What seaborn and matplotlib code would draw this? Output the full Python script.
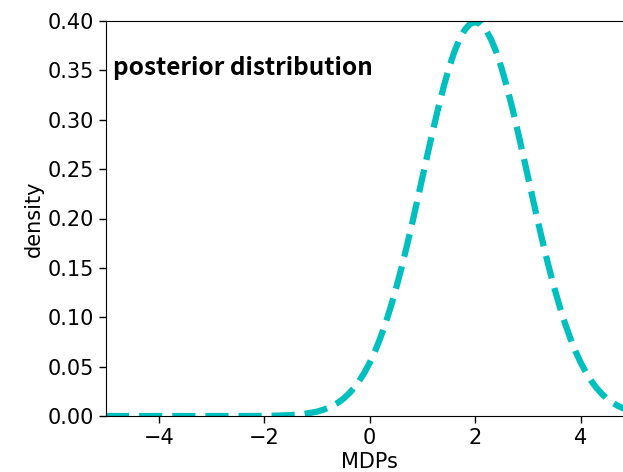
import matplotlib
matplotlib.use("Agg")
import matplotlib.pyplot as plt
import seaborn as sns
import pandas as pd

# values
mdps = [-5.0, -4.75, -4.5, -4.25, -4.0, -3.75, -3.5, -3.25, -3.0, -2.75, -2.5, -2.25,
        -2.0, -1.75, -1.5, -1.25,
        -1.0, -0.9, -0.8, -0.7, -0.6, -0.5, -0.4, -0.3, -0.2, -0.1,
        0.0, 0.1, 0.2, 0.3, 0.4, 0.5, 0.6, 0.7, 0.8, 0.9,
        1.0, 1.1, 1.2, 1.3, 1.4, 1.5, 1.6, 1.7, 1.8, 1.9,
        2.0, 2.1, 2.2, 2.3, 2.4, 2.5, 2.6, 2.7, 2.8, 2.9,
        3.0, 3.1, 3.2, 3.3, 3.4, 3.5, 3.6, 3.7, 3.8, 3.9,
        4.0, 4.1, 4.2, 4.3, 4.4, 4.5, 4.6, 4.7, 4.8, 4.9, 5.0]
density = [0.0, 0.0, 0.0, 0.0, 0.0, 0.0, 0.0, 0.0, 0.0, 0.0, 0.0, 0.0,
           0.0001, 0.0004, 0.0009, 0.0020,
           0.0044, 0.0060, 0.0079, 0.0104, 0.0136, 0.0175, 0.0224, 0.0283, 0.0355, 0.0440,
           0.0540, 0.0656, 0.0790, 0.0940, 0.1109, 0.1295, 0.1497, 0.1714, 0.1942, 0.2179,
           0.2420, 0.2661, 0.2897, 0.3123, 0.3332, 0.3521, 0.3683, 0.3814, 0.3910, 0.3970,
           0.3989, 0.3970, 0.3910, 0.3814, 0.3683, 0.3521, 0.3332, 0.3123, 0.2897, 0.2661,
           0.2420, 0.2179, 0.1942, 0.1714, 0.1497, 0.1295, 0.1109, 0.0940, 0.0790, 0.0656,
           0.0540, 0.0440, 0.0355, 0.0283, 0.0224, 0.0175, 0.0136, 0.0104, 0.0079, 0.0060, 0.0044]
title_text = "posterior distribution"
x_ticks = [-4, -2, 0, 2, 4]
y_ticks = [0.00, 0.05, 0.10, 0.15, 0.20, 0.25, 0.30, 0.35, 0.40]

sns.set_style("ticks", {"text.color": "black", "axes.labelcolor": "black",
                        "xtick.color": "black", "ytick.color": "black",
                        "axes.edgecolor": "black"})
df = pd.DataFrame({"MDPs": mdps, "density": density})

fig = plt.figure(figsize=(6.23, 4.72), dpi=100)
ax = fig.add_axes([106/623, 56/472, 527.5/623, 395/472])
sns.lineplot(data=df, x="MDPs", y="density", ax=ax, color="#00bfbf",
             linestyle="--", linewidth=4.5)
ax.set_xlim(-5, 5)
ax.set_ylim(0, 0.40)
ax.set_xticks(x_ticks)
ax.set_xticklabels([f"{t:d}".replace("-", "\u2212") for t in x_ticks])
ax.set_yticks(y_ticks)
ax.set_yticklabels([f"{t:.2f}" for t in y_ticks])
ax.tick_params(labelsize=15, length=5, width=1, colors="black")
ax.set_xlabel("MDPs", fontsize=15, labelpad=3, color="black")
ax.set_ylabel("density", fontsize=15, labelpad=3, color="black")
ax.text(0.013, 0.881, title_text, transform=ax.transAxes, fontsize=17.5,
        fontweight="bold", family=["Noto Sans CJK SC", "DejaVu Sans"],
        va="center", ha="left", color="black")
for s in ["left", "bottom", "top", "right"]:
    ax.spines[s].set_visible(True)
    ax.spines[s].set_color("black")

fig.savefig("out.png", dpi=100)
